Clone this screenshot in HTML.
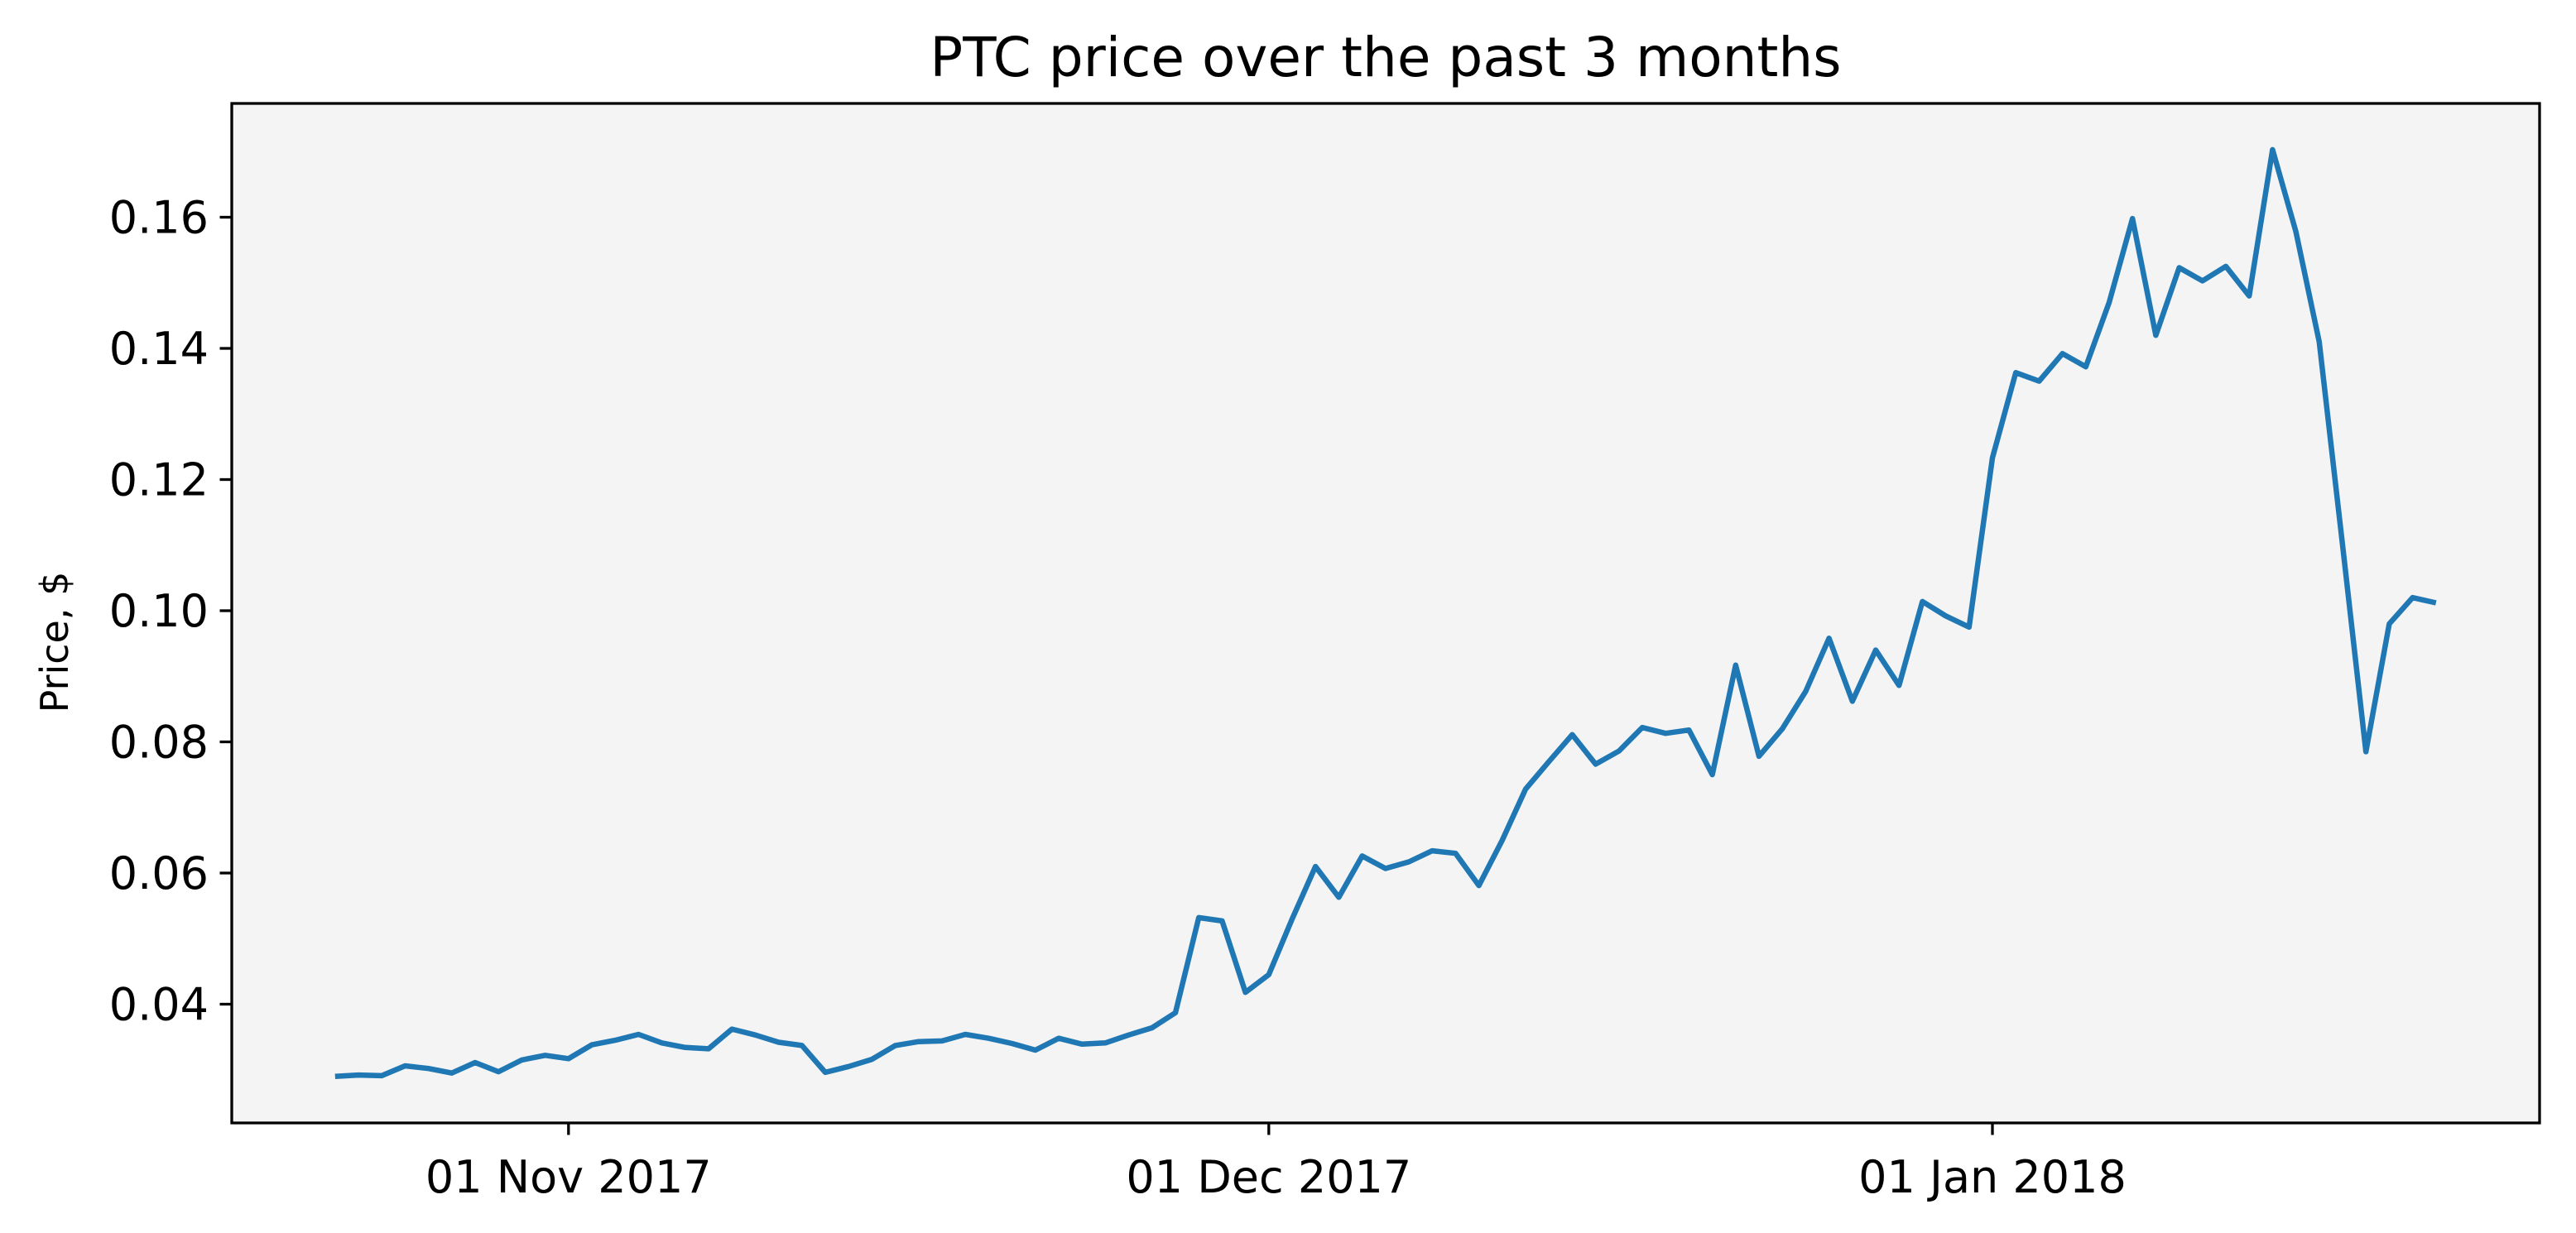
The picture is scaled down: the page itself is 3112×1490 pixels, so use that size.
<!DOCTYPE html>
<html><head><meta charset="utf-8"><style>
html,body{margin:0;padding:0;background:#fff;}
svg{display:block;font-family:"DejaVu Sans","Liberation Sans",sans-serif;}
</style></head><body>
<svg id="chart" width="3112" height="1490" viewBox="0 0 3112 1490" xmlns="http://www.w3.org/2000/svg">
<rect x="0" y="0" width="3112" height="1490" fill="#ffffff"/>
<rect x="280" y="125" width="2788" height="1232" fill="#f4f4f4"/>
<g id="series"></g>
<g id="axes"></g>
<rect x="280" y="125" width="2788" height="1232" fill="none" stroke="#000" stroke-width="3.3"/>
<text x="1674" y="92" font-size="66" text-anchor="middle" fill="#000">PTC price over the past 3 months</text>
<text x="0" y="0" font-size="46" text-anchor="middle" fill="#000" transform="translate(82,776) rotate(-90)">Price, $</text>
</svg>
<script>
const startDate = "2017-10-22";
const prices = [
0.0290,0.0292,0.0291,0.0306,0.0302,0.0295,0.0311,0.0297,0.0315,0.0322,
0.0317,0.0338,0.0345,0.0354,0.0341,0.0334,0.0332,0.0362,0.0353,0.0342,
0.0337,0.0296,0.0305,0.0316,0.0337,0.0343,0.0344,0.0354,0.0348,0.0340,
0.0330,0.0348,0.0339,0.0341,0.0353,0.0364,0.0387,0.0532,0.0527,0.0418,
0.0445,0.0530,0.0610,0.0563,0.0626,0.0607,0.0617,0.0634,0.0630,0.0581,
0.0650,0.0728,0.0770,0.0811,0.0766,0.0786,0.0822,0.0813,0.0818,0.0750,
0.0917,0.0778,0.0820,0.0877,0.0958,0.0862,0.0940,0.0886,0.1014,0.0992,
0.0975,0.1233,0.1363,0.1350,0.1392,0.1372,0.1470,0.1598,0.1420,0.1523,
0.1503,0.1525,0.1480,0.1703,0.1578,0.1410,0.1100,0.0785,0.0980,0.1020,
0.1012];
const yTicks = [0.04,0.06,0.08,0.10,0.12,0.14,0.16];
const yTickLabels = ["0.04","0.06","0.08","0.10","0.12","0.14","0.16"];
const xTickDates = ["2017-11-01","2017-12-01","2018-01-01"];
const xTickLabels = ["01 Nov 2017","01 Dec 2017","01 Jan 2018"];

const NS="http://www.w3.org/2000/svg";
const DAY=86400000;
const ref=Date.UTC(2017,10,1);
function dayNum(s){const p=s.split("-").map(Number);return (Date.UTC(p[0],p[1]-1,p[2])-ref)/DAY;}
function xScale(d){return 686.8 + d*28.2;}
function yScale(v){return 262.5 + (0.16-v)/0.02*158.5;}

const series=document.getElementById("series");
const axes=document.getElementById("axes");
const s0=dayNum(startDate);
let pts=prices.map((v,i)=>xScale(s0+i).toFixed(1)+","+yScale(v).toFixed(1)).join(" ");
const line=document.createElementNS(NS,"polyline");


line.setAttribute("points",pts);
line.setAttribute("fill","none");
line.setAttribute("stroke","#1f77b4");
line.setAttribute("stroke-width","6.5");
line.setAttribute("stroke-linejoin","round");
series.appendChild(line);

yTicks.forEach((v,i)=>{
  const y=yScale(v);
  const t=document.createElementNS(NS,"line");
  
  
  t.setAttribute("x1",280);t.setAttribute("x2",265.5);
  t.setAttribute("y1",y);t.setAttribute("y2",y);
  t.setAttribute("stroke","#000");t.setAttribute("stroke-width","3.3");
  axes.appendChild(t);
  const l=document.createElementNS(NS,"text");
  
  
  l.setAttribute("x",252);l.setAttribute("y",y+19);
  l.setAttribute("text-anchor","end");l.setAttribute("font-size","54");
  l.textContent=yTickLabels[i];
  axes.appendChild(l);
});
xTickDates.forEach((d,i)=>{
  const x=xScale(dayNum(d));
  const t=document.createElementNS(NS,"line");
  
  
  t.setAttribute("x1",x);t.setAttribute("x2",x);
  t.setAttribute("y1",1357);t.setAttribute("y2",1371.5);
  t.setAttribute("stroke","#000");t.setAttribute("stroke-width","3.3");
  axes.appendChild(t);
  const l=document.createElementNS(NS,"text");
  
  
  l.setAttribute("x",x);l.setAttribute("y",1441);
  l.setAttribute("text-anchor","middle");l.setAttribute("font-size","54");
  l.textContent=xTickLabels[i];
  axes.appendChild(l);
});
</script>
</body></html>
